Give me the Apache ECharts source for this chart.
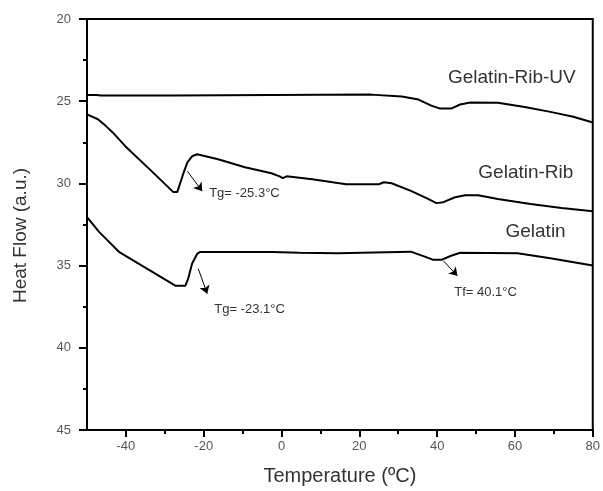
<!DOCTYPE html>
<html>
<head>
<meta charset="utf-8">
<script src="https://cdn.jsdelivr.net/npm/echarts@6/dist/echarts.min.js"></script>
<style>
html,body{margin:0;padding:0;background:#fff;}
#c{width:603px;height:491px;}
</style>
</head>
<body>
<div id="c"></div>
<script>
// ---- data (temperature °C, heat flow a.u.) ----
const gelatinRibUV = [[-50,24.62],[-47.5,24.62],[-46.5,24.66],[-28,24.66],[-27.6,24.6],[23,24.6],[23.5,24.66],[30.9,24.72],[35.2,24.9],[38.5,25.27],[40.8,25.45],[43.6,25.45],[45.9,25.2],[48.5,25.08],[55.6,25.1],[62.5,25.35],[69.1,25.65],[75,25.95],[80,26.3]];
const gelatinRib = [[-50,25.8],[-47.2,26.1],[-45.2,26.5],[-43.4,26.9],[-40.1,27.75],[-33.2,29.3],[-27.8,30.53],[-26.8,30.53],[-25.3,29.44],[-24.2,28.72],[-23,28.35],[-21.7,28.23],[-16.3,28.53],[-9.4,29.02],[-2.6,29.38],[-0.5,29.57],[0.3,29.68],[1.3,29.57],[7.9,29.75],[16.6,30.05],[25,30.05],[26.3,29.93],[28.3,29.99],[33.4,30.47],[37.8,30.96],[39.8,31.2],[41.6,31.14],[44.6,30.84],[47.2,30.72],[50.5,30.72],[55.6,30.95],[64,31.25],[72,31.5],[80,31.7]];
const gelatin = [[-50,32.05],[-46.9,32.95],[-41.8,34.16],[-37.5,34.77],[-27.3,36.22],[-24.7,36.22],[-24,35.8],[-23,34.89],[-21.7,34.29],[-20.9,34.17],[-2.3,34.17],[-2,34.25],[4.6,34.22],[14.5,34.25],[14.8,34.15],[33.2,34.15],[37,34.47],[39,34.65],[41.1,34.65],[43.6,34.4],[45.9,34.22],[60.7,34.25],[69.1,34.55],[80,35.0]];

const xMajorTicks = [-40,-20,0,20,40,60,80];
const xMinorTicks = [-30,-10,10,30,50,70];
const seriesNames = ['Gelatin-Rib-UV','Gelatin-Rib','Gelatin'];
const seriesLabelPos = [[59.2,23.6],[62.8,29.35],[65.3,32.93]];
const noteTexts = ['Tg= -25.3°C','Tg= -23.1°C','Tf= 40.1°C'];
const notePos = [[-18.6,30.6],[-17.3,37.66],[44.4,36.66]];
const arrows = [[[-24.2,29.26],[-20.4,30.47]],[[-21.4,35.19],[-19.1,36.71]],[[41.6,34.71],[45.2,35.62]]];

const FONT = 'Arial, "Liberation Sans", sans-serif';
const chart = echarts.init(document.getElementById('c'), null, {renderer:'canvas'});

function lineSeries(name, data, idx){
  return {
    name: name, type:'line', data: data, showSymbol:false, symbol:'none',
    lineStyle:{color:'#000', width:2}, silent:true, animation:false,
    markPoint:{
      symbol:'circle', symbolSize:0, silent:true, animation:false,
      data:[{coord: seriesLabelPos[idx], label:{show:true, position:'inside', formatter: name,
        color:'#333', fontSize:19, fontFamily:FONT}}]
    }
  };
}

const series = [
  lineSeries(seriesNames[0], gelatinRibUV, 0),
  lineSeries(seriesNames[1], gelatinRib, 1),
  lineSeries(seriesNames[2], gelatin, 2),
  {
    type:'line', data:[], silent:true, animation:false,
    markPoint:{
      symbol:'circle', symbolSize:0, silent:true, animation:false,
      data: noteTexts.map((t,i)=>({coord: notePos[i], label:{show:true, position:'right', distance:0,
        formatter:t, color:'#333', fontSize:13, fontFamily:FONT}}))
    },
    markLine:{
      silent:true, animation:false, symbol:['none','arrow'], symbolSize:8,
      lineStyle:{color:'#000', width:1, type:'solid'}, label:{show:false},
      data: arrows.map(a=>[{coord:a[0]},{coord:a[1]}])
    }
  }
];

chart.setOption({
  backgroundColor:'#fff',
  animation:false,
  grid:{left:87, right:7, top:19, bottom:59, show:true, borderColor:'#000', borderWidth:2, backgroundColor:'transparent'},
  xAxis:[{
    type:'value', min:-50, max:80,
    name:'Temperature (ºC)', nameLocation:'middle', nameGap:36,
    nameTextStyle:{fontSize:20, color:'#333', fontFamily:FONT},
    axisLine:{show:true, onZero:false, lineStyle:{color:'#000', width:2}},
    axisTick:{show:true, length:7, customValues:xMajorTicks, lineStyle:{color:'#000', width:2}},
    axisLabel:{customValues:xMajorTicks, color:'#555', fontSize:13, fontFamily:FONT, margin:10},
    splitLine:{show:false}
  },{
    type:'value', min:-50, max:80, position:'bottom',
    axisLine:{show:false, onZero:false},
    axisTick:{show:true, length:4, customValues:xMinorTicks, lineStyle:{color:'#000', width:2}},
    axisLabel:{show:false},
    splitLine:{show:false}
  }],
  yAxis:{
    type:'value', min:20, max:45, interval:5, inverse:true,
    name:'Heat Flow (a.u.)', nameLocation:'middle', nameGap:57,
    nameTextStyle:{fontSize:19, color:'#333', fontFamily:FONT, padding:[0,22,0,0]},
    axisLine:{show:true, onZero:false, lineStyle:{color:'#000', width:2}},
    axisTick:{show:true, length:8, lineStyle:{color:'#000', width:2}},
    minorTick:{show:true, splitNumber:2, length:4, lineStyle:{color:'#000', width:2}},
    axisLabel:{color:'#555', fontSize:13, fontFamily:FONT, margin:16},
    splitLine:{show:false}, minorSplitLine:{show:false}
  },
  series: series
});
</script>
</body>
</html>
